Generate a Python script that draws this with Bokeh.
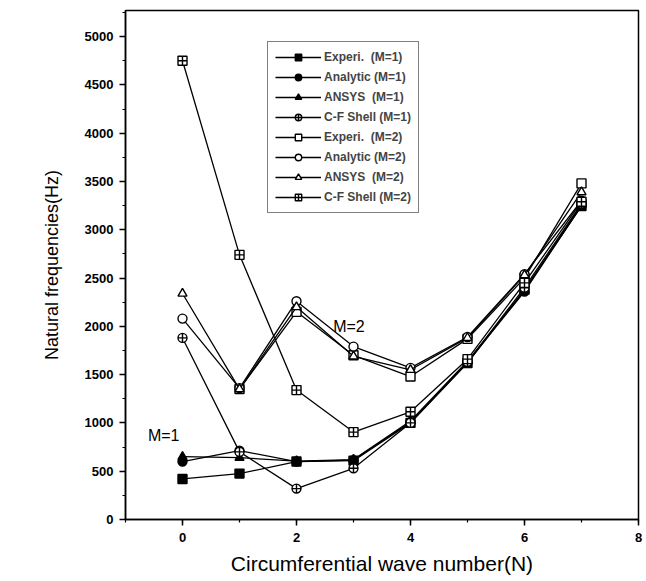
from bokeh.plotting import figure
from bokeh.models import Legend, LegendItem, SingleIntervalTicker, Label, Range1d
from bokeh.embed import file_html
from bokeh.resources import INLINE

N = [0, 1, 2, 3, 4, 5, 6, 7]
exp_m1 = [420, 475, 600, 610, 1000, 1620, 2380, 3245]
ana_m1 = [600, 713, 600, 615, 1010, 1630, 2360, 3250]
ansys_m1 = [650, 640, 605, 620, 1020, 1640, 2370, 3260]
cf_m1 = [1880, 700, 320, 530, 1000, 1630, 2400, 3270]
exp_m2 = [None, 1350, 2150, 1700, 1480, 1870, 2500, 3480]
ana_m2 = [2080, 1360, 2260, 1790, 1570, 1890, 2540, 3300]
ansys_m2 = [2340, 1350, 2200, 1690, 1550, 1880, 2530, 3390]
cf_m2 = [4750, 2740, 1340, 905, 1115, 1660, 2450, 3290]

series = [
    ("Experi.  (M=1)", exp_m1, "square", "black"),
    ("Analytic (M=1)", ana_m1, "circle", "black"),
    ("ANSYS  (M=1)", ansys_m1, "triangle", "black"),
    ("C-F Shell (M=1)", cf_m1, "circle_cross", "white"),
    ("Experi.  (M=2)", exp_m2, "square", "white"),
    ("Analytic (M=2)", ana_m2, "circle", "white"),
    ("ANSYS  (M=2)", ansys_m2, "triangle", "white"),
    ("C-F Shell (M=2)", cf_m2, "square_cross", "white"),
]

FONT = "Liberation Sans"

p = figure(width=644, height=577, output_backend="svg", toolbar_location=None,
           x_range=Range1d(-1, 8), y_range=Range1d(0, 5270),
           min_border_left=125, min_border_right=6, min_border_top=10, min_border_bottom=54)
p.background_fill_color = "white"
p.border_fill_color = "white"
p.grid.visible = False
p.outline_line_color = "black"
p.outline_line_width = 1.5

p.xaxis.ticker = SingleIntervalTicker(interval=2, num_minor_ticks=2)
p.yaxis.ticker = SingleIntervalTicker(interval=500, num_minor_ticks=2)
for ax in (p.xaxis[0], p.yaxis[0]):
    ax.axis_line_width = 1.5
    ax.major_tick_line_width = 1.5
    ax.minor_tick_line_width = 1.2
    ax.major_tick_out = 6
    ax.major_tick_in = 0
    ax.minor_tick_out = 3
    ax.minor_tick_in = 0
    ax.major_label_text_font = FONT
    ax.major_label_text_font_size = "13px"
    ax.major_label_text_font_style = "bold"
    ax.major_label_text_color = "black"
    ax.axis_label_text_font = FONT
    ax.axis_label_text_font_style = "normal"
    ax.axis_label_text_color = "black"
p.xaxis.axis_label_text_font_size = "21px"
p.yaxis.axis_label_text_font_size = "18px"
p.xaxis.axis_label = "Circumferential wave number(N)"
p.yaxis.axis_label = "Natural frequencies(Hz)"
p.xaxis.major_label_standoff = 7
p.yaxis.major_label_standoff = 6
p.xaxis.axis_label_standoff = 7
p.yaxis.axis_label_standoff = 20

items = []
for label, ys, marker, fill in series:
    xs = [n for n, y in zip(N, ys) if y is not None]
    yy = [y for y in ys if y is not None]
    r1 = p.line(xs, yy, line_color="black", line_width=1.3)
    r2 = p.scatter(xs, yy, marker=marker, size=9, line_color="black",
                   fill_color=fill, line_width=1.4)
    items.append(LegendItem(label=label, renderers=[r1, r2]))

legend = Legend(items=items, location=(142, 306))
legend.label_text_font = FONT
legend.label_text_font_size = "12px"
legend.label_text_font_style = "bold"
legend.glyph_width = 46
legend.glyph_height = 16
legend.label_height = 16
legend.spacing = 4
legend.padding = 7
legend.margin = 0
legend.border_line_color = "black"
legend.border_line_width = 1.5
legend.label_standoff = 3
p.add_layout(legend, "center")

p.add_layout(Label(x=-0.33, y=870, text="M=1", text_font=FONT, text_font_size="16px",
                   text_align="center", text_baseline="middle", text_color="black"))
p.add_layout(Label(x=2.92, y=2000, text="M=2", text_font=FONT, text_font_size="16px",
                   text_align="center", text_baseline="middle", text_color="black"))

open("out.html", "w").write(file_html(p, INLINE))
